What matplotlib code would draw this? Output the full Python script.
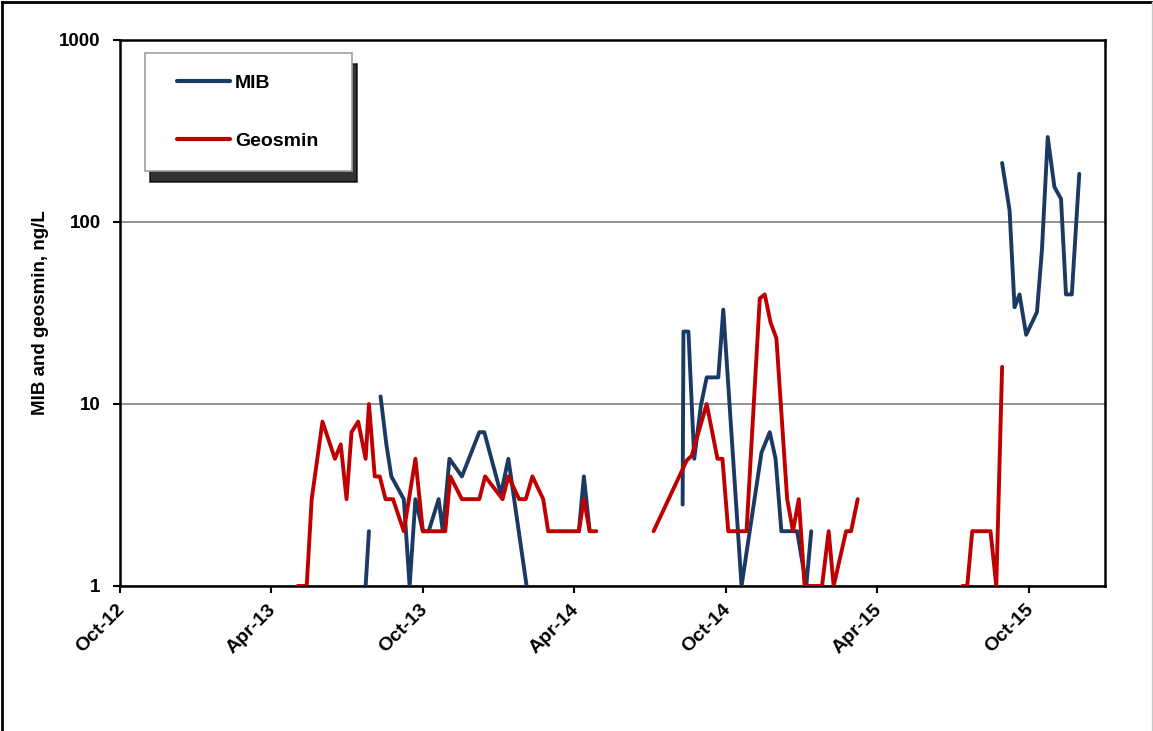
import numpy as np
import pandas as pd
import matplotlib
matplotlib.use("Agg")
import matplotlib.pyplot as plt
import matplotlib.dates as mdates
from matplotlib.lines import Line2D
from matplotlib.legend_handler import HandlerLine2D
from matplotlib.transforms import ScaledTranslation
from matplotlib.ticker import FixedLocator, FixedFormatter, NullLocator

plt.rcParams['font.family'] = ['Liberation Sans', 'DejaVu Sans']
plt.rcParams['font.weight'] = 'bold'

# ---------------- data (None = gap in record) ----------------
mib_dates = [
    "2013-07-24", "2013-07-28", None,
    "2013-08-11", "2013-08-18", "2013-08-24", "2013-09-08", "2013-09-15",
    "2013-09-22", "2013-10-01", "2013-10-08", "2013-10-20", "2013-10-25",
    "2013-11-02", "2013-11-17", "2013-12-08", "2013-12-14", "2014-01-03",
    "2014-01-12", "2014-02-03", None,
    "2014-04-07", "2014-04-13", "2014-04-20", None,
    "2014-08-10", "2014-08-11", "2014-08-17", "2014-08-24", "2014-09-01",
    "2014-09-08", "2014-09-22", "2014-09-28", "2014-10-20", "2014-11-13",
    "2014-11-23", "2014-11-30", "2014-12-07", "2014-12-26", "2015-01-06",
    "2015-01-12", None,
    "2015-08-30", "2015-09-08", "2015-09-14", "2015-09-20", "2015-09-28",
    "2015-10-11", "2015-10-17", "2015-10-24", "2015-11-01", "2015-11-09",
    "2015-11-15", "2015-11-22", "2015-12-01",
]
mib_values = [
    1, 2, None,
    11, 6, 4, 3, 1,
    3, 2, 2, 3, 2,
    5, 4, 7, 7, 3.2,
    5, 1, None,
    2, 4, 2, None,
    2.8, 25, 25, 5, 9.8,
    14, 14, 33, 1, 5.4,
    7, 5, 2, 2, 1,
    2, None,
    211, 116, 34, 40, 24,
    32, 70, 293, 156, 134,
    40, 40, 184,
]

geo_dates = [
    "2013-05-03", "2013-05-14", "2013-05-20", "2013-06-02", "2013-06-17",
    "2013-06-24", "2013-07-01", "2013-07-07", "2013-07-15", "2013-07-24",
    "2013-07-28", "2013-08-04", "2013-08-10", "2013-08-17", "2013-08-26",
    "2013-09-08", "2013-09-22", "2013-10-01", "2013-10-28", "2013-11-03",
    "2013-11-17", "2013-12-08", "2013-12-15", "2014-01-05", "2014-01-12",
    "2014-01-25", "2014-02-02", "2014-02-10", "2014-02-23", "2014-03-01",
    "2014-04-07", "2014-04-13", "2014-04-20", "2014-04-28", None,
    "2014-07-06", "2014-08-15", "2014-08-21", "2014-09-08", "2014-09-21",
    "2014-09-27", "2014-10-04", "2014-10-26", "2014-11-11", "2014-11-17",
    "2014-11-24", "2014-12-01", "2014-12-14", "2014-12-21", "2014-12-28",
    "2015-01-04", "2015-01-25", "2015-02-02", "2015-02-08", "2015-02-23",
    "2015-03-01", "2015-03-09", None,
    "2015-07-13", "2015-07-19", "2015-07-25", "2015-08-16", "2015-08-23",
    "2015-08-30",
]
geo_values = [
    1, 1, 3, 8, 5,
    6, 3, 7, 8, 5,
    10, 4, 4, 3, 3,
    2, 5, 2, 2, 4,
    3, 3, 4, 3, 4,
    3, 3, 4, 3, 2,
    2, 3, 2, 2, None,
    2, 4.9, 5.2, 10, 5,
    5, 2, 2, 38, 40,
    28, 23, 3, 2, 3,
    1, 1, 2, 1, 2,
    2, 3, None,
    1, 1, 2, 2, 1,
    16,
]

tick_dates = ["2012-10-01", "2013-04-01", "2013-10-01", "2014-04-01",
              "2014-10-01", "2015-04-01", "2015-10-01"]
tick_labels = ["Oct-12", "Apr-13", "Oct-13", "Apr-14", "Oct-14", "Apr-15", "Oct-15"]
y_ticks = [1, 10, 100, 1000]
y_tick_labels = ["1", "10", "100", "1000"]


def to_series(dates, values):
    d = pd.to_datetime([x if x is not None else pd.NaT for x in dates])
    v = np.array([np.nan if x is None else x for x in values], dtype=float)
    d = pd.Series(d).ffill().values  # gap rows carry NaN value -> line breaks
    return d, v


mib_d, mib_v = to_series(mib_dates, mib_values)
geo_d, geo_v = to_series(geo_dates, geo_values)

# ---------------- figure ----------------
W, H = 1153, 731
fig = plt.figure(figsize=(W / 100, H / 100), dpi=100)
ax = fig.add_axes([120 / W, 1 - 586 / H, (1105 - 120) / W, (586 - 40) / H])

blue = "#1B3A63"
red = "#C00000"
ax.plot(mib_d, mib_v, color=blue, lw=2.8, solid_joinstyle="round",
        solid_capstyle="round", label="MIB", zorder=3)
ax.plot(geo_d, geo_v, color=red, lw=2.8, solid_joinstyle="round",
        solid_capstyle="round", label="Geosmin", zorder=4)

ax.set_yscale("log")
ax.set_ylim(1, 1000)
ax.set_xlim(pd.Timestamp("2012-10-01"), pd.Timestamp("2016-01-01"))

ax.yaxis.set_major_locator(FixedLocator(y_ticks))
ax.yaxis.set_major_formatter(FixedFormatter(y_tick_labels))
ax.yaxis.set_minor_locator(NullLocator())

xt = mdates.date2num(pd.to_datetime(tick_dates))
ax.set_xticks(xt)
ax.set_xticklabels(tick_labels, rotation=45, ha="right", rotation_mode="anchor")
ax.xaxis.set_minor_locator(NullLocator())

ax.tick_params(axis="both", direction="out", length=5, width=1.5, color="black",
               labelsize=13.5)
ax.tick_params(axis="x", labelsize=14, pad=6)
ax.tick_params(axis="y", pad=9)
for lab in ax.get_xticklabels() + ax.get_yticklabels():
    lab.set_fontweight("bold")
shift = ScaledTranslation(-4 / 100, 0, fig.dpi_scale_trans)
for lab in ax.get_xticklabels():
    lab.set_transform(lab.get_transform() + shift)

ax.yaxis.grid(True, which="major", color="#8A8A8A", lw=1.3, zorder=0)
ax.set_axisbelow(True)
for s in ax.spines.values():
    s.set_linewidth(1.8)
    s.set_color("black")

ax.set_ylabel("MIB and geosmin, ng/L", fontsize=13.5, fontweight="bold", labelpad=7.5)

leg = ax.legend(loc="upper left", bbox_to_anchor=(0.0254, 0.762, 0.2102, 0.214),
                mode="expand", frameon=True,
                fancybox=False, edgecolor="#A0A0A0", framealpha=1,
                borderpad=1.08, labelspacing=2.1, handlelength=3.30,
                handletextpad=0.26, borderaxespad=0,
                prop={"size": 14, "weight": "bold"},
                handler_map={Line2D: HandlerLine2D(xpad=0.57)},
                shadow={"ox": 3.5, "oy": -8, "color": "black", "alpha": 0.8})
leg.get_frame().set_linewidth(1.2)
for h in leg.get_lines():
    h.set_linewidth(3.0)

# figure border
fig.add_artist(Line2D([2 / W, 2 / W], [0, 1 - 2 / H], color="black", lw=2,
                      transform=fig.transFigure))
fig.add_artist(Line2D([2 / W, 1], [1 - 2 / H, 1 - 2 / H], color="black", lw=2,
                      transform=fig.transFigure))
fig.add_artist(Line2D([1 - 1.5 / W, 1 - 1.5 / W], [0, 1 - 2 / H], color="#C8C8C8",
                      lw=1, transform=fig.transFigure))

fig.savefig("out.png", dpi=100)
